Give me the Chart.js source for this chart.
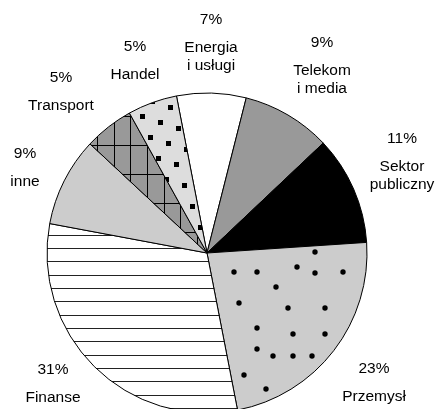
<!DOCTYPE html>
<html>
<head>
<meta charset="utf-8">
<script src="https://cdn.jsdelivr.net/npm/chart.js@4"></script>
<style>
  html, body { margin: 0; padding: 0; background: #fff; }
  canvas { display: block; }
</style>
</head>
<body>
<canvas id="sectorsChart" width="437" height="409"></canvas>
<script>
// sector shares, clockwise from the top
const sectors = ['Energia i usługi', 'Telekom i media', 'Sektor publiczny', 'Przemysł', 'Finanse', 'inne', 'Transport', 'Handel'];
const sectorLines = [['Energia', 'i usługi'], ['Telekom', 'i media'], ['Sektor', 'publiczny'], ['Przemysł'], ['Finanse'], ['inne'], ['Transport'], ['Handel']];
const shares = [7, 9, 11, 23, 31, 9, 5, 5];

// where each label block sits, relative to the pie centre
const labelOffsets = [[4, -233], [115, -210], [195, -114], [167, 116], [-154, 117], [-182, -99], [-146, -175], [-72, -206]];

function makeTile(w, h, paint) {
    const c = document.createElement('canvas');
    c.width = w;
    c.height = h;
    const g = c.getContext('2d');
    paint(g, w, h);
    return g.createPattern(c, 'repeat');
}

// light grey with scattered round dots
const dotted = makeTile(437, 409, (g, w, h) => {
    g.fillStyle = '#cccccc';
    g.fillRect(0, 0, w, h);
    g.fillStyle = '#000';
    const dots = [[234, 272], [257, 272], [297, 267], [315, 252], [315, 273], [343, 272], [276, 287],
        [239, 303], [288, 308], [325, 308], [257, 328], [293, 334], [325, 334], [257, 349],
        [273, 356], [293, 356], [312, 356], [244, 375], [266, 389]];
    dots.forEach(([x, y]) => {
        g.beginPath();
        g.arc(x, y, 2.7, 0, Math.PI * 2);
        g.fill();
    });
});

// white with horizontal rules
const ruled = makeTile(40, 40, (g, w, h) => {
    g.fillStyle = '#fff';
    g.fillRect(0, 0, w, h);
    g.fillStyle = '#222';
    [8, 21, 35].forEach(y => g.fillRect(0, y, w, 1));
});

// mid grey with a rectangular grid
const grid = makeTile(50, 29, (g, w, h) => {
    g.fillStyle = '#999999';
    g.fillRect(0, 0, w, h);
    g.fillStyle = '#000';
    [14, 30, 47].forEach(x => g.fillRect(x, 0, 1, h));
    g.fillRect(0, 0, w, 1);
});

// pale grey with small squares on a slanted lattice
const squares = makeTile(110, 165, (g, w, h) => {
    g.fillStyle = '#dddddd';
    g.fillRect(0, 0, w, h);
    g.fillStyle = '#000';
    for (let i = -20; i <= 20; i++) {
        for (let j = -20; j <= 20; j++) {
            const x = ((141.7 + i * 18 + j * 8) % w + w) % w;
            const y = ((116 + i * 6 + j * 21) % h + h) % h;
            for (const sx of [-w, 0, w]) {
                for (const sy of [-h, 0, h]) {
                    g.fillRect(Math.round(x + sx - 2), Math.round(y + sy - 2), 5, 5);
                }
            }
        }
    }
});

const fills = ['#ffffff', '#999999', '#000000', dotted, ruled, '#cccccc', grid, squares];

const labelPlugin = {
    id: 'sectorLabels',
    afterDraw(chart) {
        const ctx = chart.ctx;
        const arcs = chart.getDatasetMeta(0).data;
        ctx.save();
        ctx.fillStyle = '#000';
        ctx.font = '15.5px "Liberation Sans", Arial, sans-serif';
        ctx.textAlign = 'center';
        ctx.textBaseline = 'middle';
        arcs.forEach((arc, i) => {
            const x = arc.x + labelOffsets[i][0];
            let y = arc.y + labelOffsets[i][1];
            ctx.fillText(shares[i] + '%', x, y);
            y += 27.5;
            sectorLines[i].forEach(line => {
                ctx.fillText(line, x, y);
                y += 18.5;
            });
        });
        ctx.restore();
    }
};

new Chart(document.getElementById('sectorsChart'), {
    type: 'pie',
    data: {
        labels: sectors,
        datasets: [{
            data: shares,
            backgroundColor: fills,
            borderColor: '#000',
            borderWidth: 1
        }]
    },
    options: {
        responsive: false,
        animation: false,
        rotation: -11,
        radius: 160,
        layout: { padding: { left: 0, right: 23, top: 97, bottom: 0 } },
        plugins: {
            legend: { display: false },
            tooltip: { enabled: false }
        }
    },
    plugins: [labelPlugin]
});
</script>
</body>
</html>
